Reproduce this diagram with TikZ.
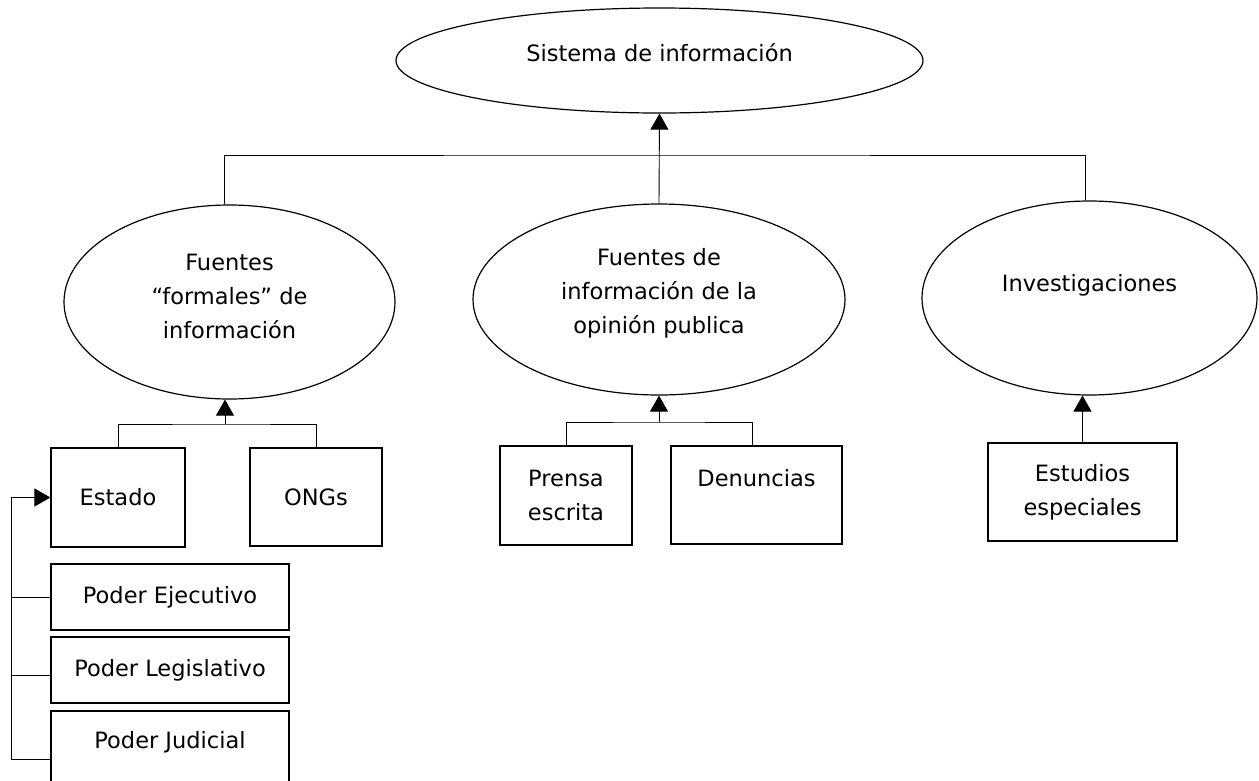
\documentclass[tikz,border=0pt]{standalone}
\usepackage{fontspec}
\setmainfont{DejaVu Sans}
\usetikzlibrary{shapes.geometric,arrows.meta}
\begin{document}
\begin{tikzpicture}[x=1pt,y=-1pt,line width=1.2pt,
  every node/.style={font=\fontsize{22.5}{34}\selectfont, align=center, inner sep=0pt},
  ell/.style={draw, ellipse, inner sep=0pt},
  box/.style={draw, rectangle, inner sep=0pt},
  con/.style={line width=0.9pt},
  arr/.style={con, -{Triangle[width=18pt,length=16pt]}}]
\useasboundingbox (0,0) rectangle (1259,780);
\clip (0,0) rectangle (1259,780);
% ellipses
\node[ell, minimum width=527, minimum height=105,
  label={[yshift=8pt]center:Sistema de información}] (top) at (659.5,60.5) {};
\node[ell, minimum width=331, minimum height=194,
  label={[yshift=6pt,align=center]center:Fuentes\\“formales” de\\información}] (fl) at (229.5,302) {};
\node[ell, minimum width=372, minimum height=191,
  label={[yshift=6pt,align=center]center:Fuentes de\\información de la\\opinión publica}] (fo) at (659,299.5) {};
\node[ell, minimum width=335, minimum height=194,
  label={[yshift=13pt]center:Investigaciones}] (inv) at (1089.5,298) {};
% boxes
\node[box, minimum width=134, minimum height=99] (est) at (118,497.5) {Estado};
\node[box, minimum width=132, minimum height=98] (ong) at (316,497) {ONGs};
\node[box, minimum width=238, minimum height=66] (pe) at (170,597) {Poder Ejecutivo};
\node[box, minimum width=238, minimum height=66] (pl) at (170,670) {Poder Legislativo};
\node[box, minimum width=238, minimum height=92] (pj) at (170,757) {Poder Judicial\\~};
\node[box, minimum width=132, minimum height=99] (pre) at (566,495.5) {Prensa\\escrita};
\node[box, minimum width=171, minimum height=98] (den) at (756.5,495) {Denuncias\\~};
\node[box, minimum width=189, minimum height=98] (ee) at (1082.5,492) {Estudios\\especiales};
% connectors
\coordinate (bus) at (659,155);
\draw[con] ([xshift=-5.5pt]fl.north) |- (bus) -| ([xshift=-4.5pt]inv.north);
\draw[arr] (fo.north) -- (top.south);
\coordinate (lb) at (225,424);
\draw[con] (est.north) |- (lb) -| (ong.north);
\draw[arr] (lb) -- (lb |- fl.south);
\coordinate (mb) at (659,422);
\draw[con] (pre.north) |- (mb) -| ([xshift=-4.5pt]den.north);
\draw[arr] (mb) -- (fo.south);
\draw[arr] (ee.north) -- (ee.north |- inv.south);
\coordinate (bb) at (11,759);
\draw[arr] (bb) |- (est.west);
\draw[con] (pe.west) -- (pe.west -| bb);
\draw[con] ([yshift=-5pt]pl.west) -- ([yshift=-5pt]pl.west -| bb);
\draw[con] ([yshift=-2pt]pj.west) -- ([yshift=-2pt]pj.west -| bb);
\end{tikzpicture}
\end{document}
